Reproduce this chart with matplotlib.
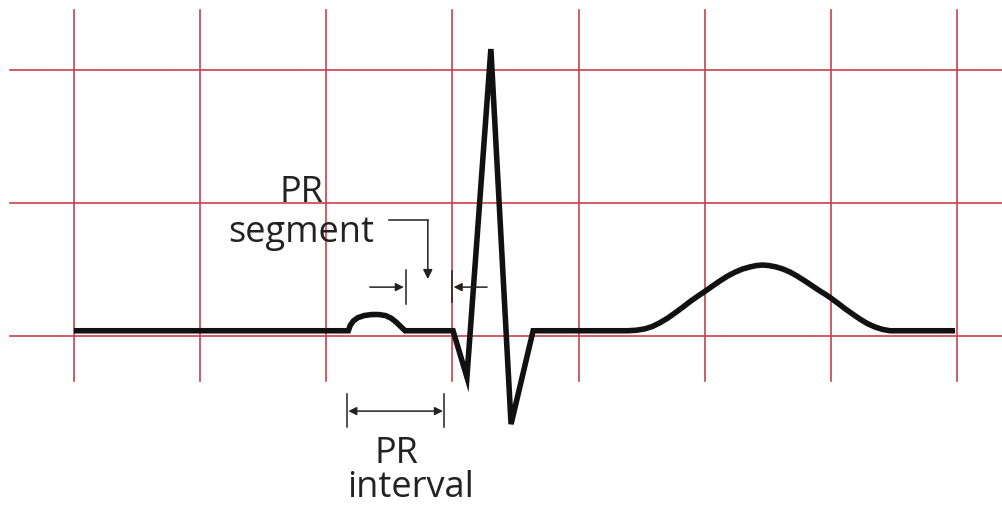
import matplotlib.pyplot as plt

# ECG trace, time in ms and amplitude in mV (one big box = 200 ms x 0.5 mV)
baseline_t = [0, 435]
p_wave_t = [435, 438, 443, 450, 460, 472, 483, 494, 503, 511, 518, 525]
p_wave_v = [0.02, 0.04, 0.057, 0.069, 0.077, 0.081, 0.081, 0.077, 0.067, 0.052, 0.036, 0.02]
qrs_t = [601, 623, 661, 693, 728]
qrs_v = [0.02, -0.154, 1.079, -0.331, 0.02]
t_wave_t = [878, 892, 905, 917, 929, 941, 953, 965, 977, 989, 1001, 1013, 1024, 1036, 1048,
            1060, 1072, 1082, 1092, 1102, 1113, 1124, 1135, 1147, 1159, 1171, 1183, 1192,
            1200, 1212, 1223, 1235, 1246, 1258, 1270, 1282, 1294, 1397]
t_wave_v = [0.02, 0.022, 0.027, 0.036, 0.05, 0.067, 0.087, 0.108, 0.13, 0.15, 0.169, 0.189,
            0.207, 0.225, 0.24, 0.252, 0.26, 0.265, 0.267, 0.265, 0.26, 0.252, 0.241, 0.225,
            0.207, 0.188, 0.169, 0.156, 0.143, 0.122, 0.102, 0.082, 0.064, 0.047, 0.034,
            0.025, 0.02, 0.02]
baseline_v = 0.02

grid_t = [0, 200, 400, 600, 800, 1000, 1200, 1400]
grid_v = [0.0, 0.5, 1.0]

trace_t = baseline_t + p_wave_t + qrs_t + t_wave_t
trace_v = [baseline_v, baseline_v] + p_wave_v + qrs_v + t_wave_v

red = '#c9404f'
ink = '#222222'
plt.rcParams['font.family'] = ['Open Sans', 'DejaVu Sans']

fig = plt.figure(figsize=(10.03, 5.06), dpi=100)
ax = fig.add_axes([0, 0, 1, 1])
ax.set_xlim(-117.3, 1473)
ax.set_ylim(-0.635, 1.267)
ax.axis('off')

for t in grid_t:
	ax.plot([t, t], [-0.169, 1.226], color=red, lw=1.2, zorder=1)
for v in grid_v:
	ax.plot([-101, 1500], [v, v], color=red, lw=1.2, zorder=1)

ax.plot(trace_t, trace_v, color='#111111', lw=4.0, solid_joinstyle='miter', solid_capstyle='butt', zorder=3)

# PR segment label and markers
ax.text(360, 0.507, "PR", ha='center', va='baseline', fontsize=26, color=ink)
ax.text(360, 0.357, "segment", ha='center', va='baseline', fontsize=26, color=ink)
ax.plot([499, 561], [0.436, 0.436], color=ink, lw=1.1)
ax.annotate("", xy=(561, 0.214), xytext=(561, 0.436),
	arrowprops=dict(arrowstyle='-|>', color=ink, lw=1.1, mutation_scale=14, shrinkA=0, shrinkB=0))
ax.annotate("", xy=(523, 0.184), xytext=(469, 0.184),
	arrowprops=dict(arrowstyle='-|>', color=ink, lw=1.1, mutation_scale=12, shrinkA=0, shrinkB=0))
ax.plot([526, 526], [0.12, 0.248], color=ink, lw=1.1)
ax.plot([599, 599], [0.128, 0.244], color=ink, lw=1.1)
ax.annotate("", xy=(602, 0.184), xytext=(655, 0.184),
	arrowprops=dict(arrowstyle='-|>', color=ink, lw=1.1, mutation_scale=12, shrinkA=0, shrinkB=0))

# PR interval label and markers
ax.plot([433, 433], [-0.218, -0.342], color=ink, lw=1.1)
ax.plot([587, 587], [-0.218, -0.342], color=ink, lw=1.1)
ax.annotate("", xy=(585, -0.282), xytext=(435, -0.282),
	arrowprops=dict(arrowstyle='<|-|>', color=ink, lw=1.1, mutation_scale=12, shrinkA=0, shrinkB=0))
ax.text(512, -0.474, "PR", ha='center', va='baseline', fontsize=26, color=ink)
ax.text(534, -0.600, "interval", ha='center', va='baseline', fontsize=26, color=ink)

fig.savefig('out.png', dpi=100)
